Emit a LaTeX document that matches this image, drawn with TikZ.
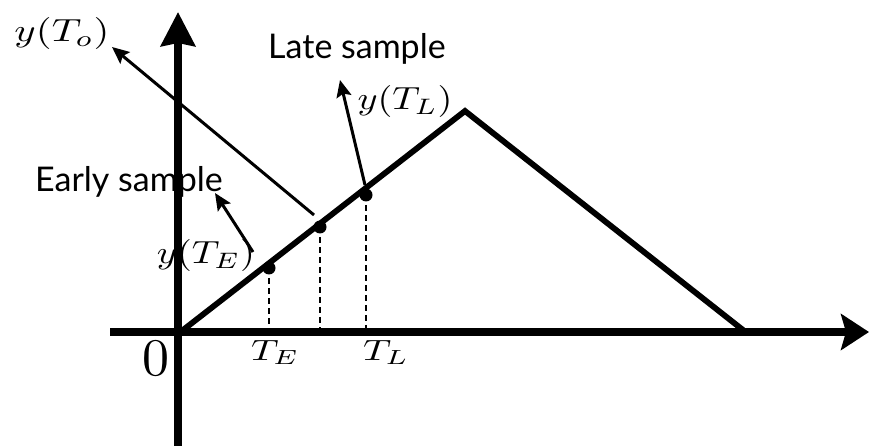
\documentclass[tikz,border=0pt]{standalone}
\usepackage{fontspec}
\newfontfamily\labelfont{Lato}
\usetikzlibrary{arrows.meta}
\tikzset{
  axisline/.style={line width=7.5pt},
  tri/.style={line width=5.8pt, line join=miter},
  thinarrow/.style={line width=3pt, -{Stealth[length=17pt,width=15pt,inset=3pt]}},
  dashline/.style={line width=2.8pt, dash pattern=on 6pt off 4pt},
  sampledot/.style={circle, fill=black, inner sep=0pt, minimum size=13pt},
  mathlbl/.style={inner sep=0pt},
  sanslbl/.style={inner sep=0pt, anchor=base west, font=\labelfont\fontsize{34}{38}\selectfont},
}
\begin{document}
\begin{tikzpicture}[x=1pt,y=-1pt]
\useasboundingbox (0,0) rectangle (870,446);
% axes
\coordinate (xs) at (110,332);
\coordinate (xe) at (869,332);
\coordinate (ys) at (178,446);
\coordinate (ye) at (178,12);
\draw[axisline, -{Stealth[length=28pt,width=36pt,inset=5pt]}] (xs) -- (xe);
\draw[axisline, -{Stealth[length=34pt,width=34pt,inset=3pt]}] (ys) -- (ye);
% triangle
\coordinate (t0) at (183,330);
\coordinate (t1) at (465,111);
\coordinate (t2) at (743,330);
\draw[tri] (t0) -- (t1) -- (t2);
% samples
\node[sampledot] (dE) at (269,268) {};
\node[sampledot] (dO) at (320,227) {};
\node[sampledot] (dL) at (366,195) {};
\coordinate (aE) at (269,330);
\coordinate (aO) at (320,330);
\coordinate (aL) at (366,330);
\draw[dashline] (dE.center) -- (aE);
\draw[dashline] (dO.center) -- (aO);
\draw[dashline] (dL.center) -- (aL);
% labels
\node[mathlbl] (yTo) at (62,34) {\resizebox{95pt}{24pt}{$y(T_o)$}};
\node[sanslbl] (late) at (268,59) {Late sample};
\node[mathlbl] (yTL) at (405,102) {\resizebox{95pt}{24pt}{$y(T_L)$}};
\node[sanslbl] (early) at (35,192) {Early sample};
\node[mathlbl] (yTE) at (206,256) {\resizebox{98pt}{24pt}{$y(T_E)$}};
\node[mathlbl, anchor=base] (TE) at (275,360) {\resizebox{48pt}{20pt}{$T_E$}};
\node[mathlbl, anchor=base] (TL) at (386,360) {\resizebox{46pt}{20pt}{$T_L$}};
\node[mathlbl, anchor=base] (zero) at (156,375) {\resizebox{27pt}{34pt}{$0$}};
% arrows
\coordinate (oS) at (314,215);
\coordinate (oT) at (112,47);
\coordinate (lS) at (365,185);
\coordinate (lT) at (340,80);
\coordinate (eS) at (253,252);
\coordinate (eT) at (215,193);
\draw[thinarrow] (oS) -- (oT);
\draw[thinarrow] (lS) -- (lT);
\draw[thinarrow] (eS) -- (eT);
\end{tikzpicture}
\end{document}
